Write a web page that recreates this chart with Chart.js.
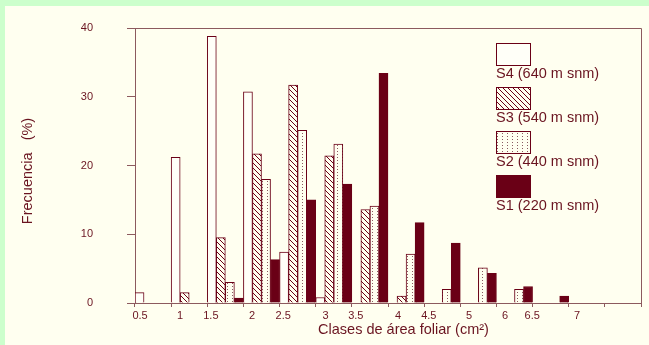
<!DOCTYPE html>
<html><head><meta charset="utf-8">
<script src="https://cdn.jsdelivr.net/npm/chart.js@4/dist/chart.umd.min.js"></script>
<style>html,body{margin:0;padding:0;background:#ccffcc;overflow:hidden}#wrap{width:649px;height:345px}</style>
</head><body><div id="wrap"><canvas id="c" width="649" height="345"></canvas></div>
<script>
// ---- data ----
const categories = ['0.5','1','1.5','2','2.5','3','3.5','4','4.5','5','5.5','6','6.5','7'];
const seriesLabels = ['S4 (640 m snm)','S3 (540 m snm)','S2 (440 m snm)','S1 (220 m snm)'];
const s4 = [1.5,21.2,38.8,30.7,7.4,0.8,0,0,0,0,0,0,0,0];
const s3 = [0,1.5,9.5,21.7,31.7,21.4,13.6,1.0,0,0,0,0,0,0];
const s2 = [0,0,3.0,18.0,25.1,23.1,14.1,7.1,2.0,5.1,2.0,0,0,0];
const s1 = [0,0,0.7,6.3,15.0,17.3,33.4,11.7,8.7,4.3,2.4,1.0,0,0];
const xTickLabels = ['0.5','1','1.5','2','2.5','3','3.5','4','4.5','5','6','6.5','7'];
const xTickAt = [0.14,1.245,2.10,3.24,4.10,5.27,6.11,7.28,8.13,9.24,10.24,10.99,12.23];
const yMin = 0, yMax = 40, yStep = 10;
const xTitle = 'Clases de área foliar (cm²)';
const yTitle = 'Frecuencia   (%)';

// ---- style ----
const MAROON = '#6a0016';
const AXIS = '#8c5a5e';
const TEXT = '#6a1420';
const CREAM = '#fffff0';
const GREEN = '#ccffcc';
const FONT = '"Liberation Sans", Arial, sans-serif';

const canvas = document.getElementById('c');
const ctx = canvas.getContext('2d');

function hatchPattern(){
  const t = document.createElement('canvas'); t.width = 5; t.height = 5;
  const g = t.getContext('2d');
  g.fillStyle = CREAM; g.fillRect(0,0,5,5);
  g.strokeStyle = MAROON; g.lineWidth = 1;
  g.beginPath();
  for (const o of [-5,0,5]) { g.moveTo(o-1,-1); g.lineTo(o+6,6); }
  g.stroke();
  return ctx.createPattern(t,'repeat');
}
function dotPattern(){
  const t = document.createElement('canvas'); t.width = 5; t.height = 3;
  const g = t.getContext('2d');
  g.fillStyle = CREAM; g.fillRect(0,0,5,3);
  g.fillStyle = '#8a5a60'; g.fillRect(2,1,1,1);
  return ctx.createPattern(t,'repeat');
}

const fills = ['#fffff8', hatchPattern(), dotPattern(), MAROON];
const seriesData = [s4, s3, s2, s1];

const bgPlugin = {
  id: 'bg',
  beforeDraw(chart){
    const c = chart.ctx;
    c.save();
    c.fillStyle = GREEN; c.fillRect(0,0,chart.width,chart.height);
    c.fillStyle = CREAM; c.fillRect(5,6,chart.width-5,chart.height-6);
    c.restore();
  },
  beforeDatasetsDraw(chart){
    const a = chart.chartArea, c = chart.ctx;
    c.save();
    c.strokeStyle = AXIS; c.lineWidth = 1;
    c.beginPath();
    c.moveTo(a.left, a.top + 0.5); c.lineTo(a.right + 0.5, a.top + 0.5);
    c.lineTo(a.right + 0.5, a.bottom);
    c.stroke();
    c.restore();
  },
  afterDraw(chart){
    const c = chart.ctx;
    c.save();
    c.fillStyle = TEXT;
    c.font = '14.5px ' + FONT;
    c.textAlign = 'center'; c.textBaseline = 'middle';
    c.fillText(xTitle, 403.5, 330);
    c.save();
    c.translate(28, 171); c.rotate(-Math.PI/2);
    c.fillText(yTitle, 0, 0);
    c.restore();
    c.textAlign = 'left'; c.textBaseline = 'alphabetic';
    chart.data.datasets.forEach((ds, i) => {
      const x = 496, y = 43 + i*44, w = 35, h = 23;
      c.fillStyle = ds.backgroundColor;
      c.fillRect(x, y, w, h);
      c.strokeStyle = MAROON; c.lineWidth = 1;
      c.strokeRect(x+0.5, y+0.5, w-1, h-1);
      c.fillStyle = TEXT;
      c.fillText(ds.label, x, y + h + 12);
    });
    c.restore();
  }
};

new Chart(canvas, {
  type: 'bar',
  data: {
    labels: categories,
    datasets: seriesData.map((d, i) => ({
      label: seriesLabels[i],
      data: d,
      backgroundColor: fills[i],
      borderColor: MAROON,
      borderWidth: 1,
      categoryPercentage: 1,
      barPercentage: 1,
      xAxisID: 'x',
      yAxisID: 'y'
    }))
  },
  options: {
    responsive: false,
    animation: false,
    devicePixelRatio: 1,
    layout: { padding: { top: 28, right: 8, left: 0, bottom: 0 } },
    plugins: { legend: { display: false }, tooltip: { enabled: false } },
    scales: {
      x: {
        type: 'category',
        position: 'bottom',
        weight: 0,
        offset: true,
        ticks: { display: false },
        grid: { offset: true, drawOnChartArea: false, tickLength: 4, color: AXIS, tickColor: AXIS },
        border: { color: AXIS, width: 1 },
        afterFit(s){ s.height = 4; }
      },
      xl: {
        type: 'linear',
        position: 'bottom',
        weight: 1,
        offset: false,
        min: 0, max: categories.length,
        afterBuildTicks(s){ s.ticks = xTickAt.map(v => ({ value: v })); },
        ticks: {
          autoSkip: false, maxRotation: 0, minRotation: 0, padding: 2,
          color: TEXT, font: { family: FONT, size: 11 },
          callback: (v, i) => xTickLabels[i]
        },
        grid: { display: false, drawTicks: false, offset: false },
        border: { display: false },
        afterFit(s){ s.height = 38; s.paddingLeft = 0; s.paddingRight = 0; }
      },
      y: {
        type: 'linear',
        min: yMin, max: yMax,
        afterBuildTicks(s){ s.ticks = [0,1,2,3,4].map(k => ({ value: yMin + k*yStep })); },
        ticks: { color: TEXT, padding: 34, font: { family: FONT, size: 11 } },
        grid: { drawOnChartArea: false, tickLength: 8, color: AXIS, tickColor: AXIS },
        border: { color: AXIS, width: 1 },
        afterFit(s){ s.width = 135; s.paddingTop = 0; s.paddingBottom = 0; }
      }
    }
  },
  plugins: [bgPlugin]
});
</script>
</body></html>
